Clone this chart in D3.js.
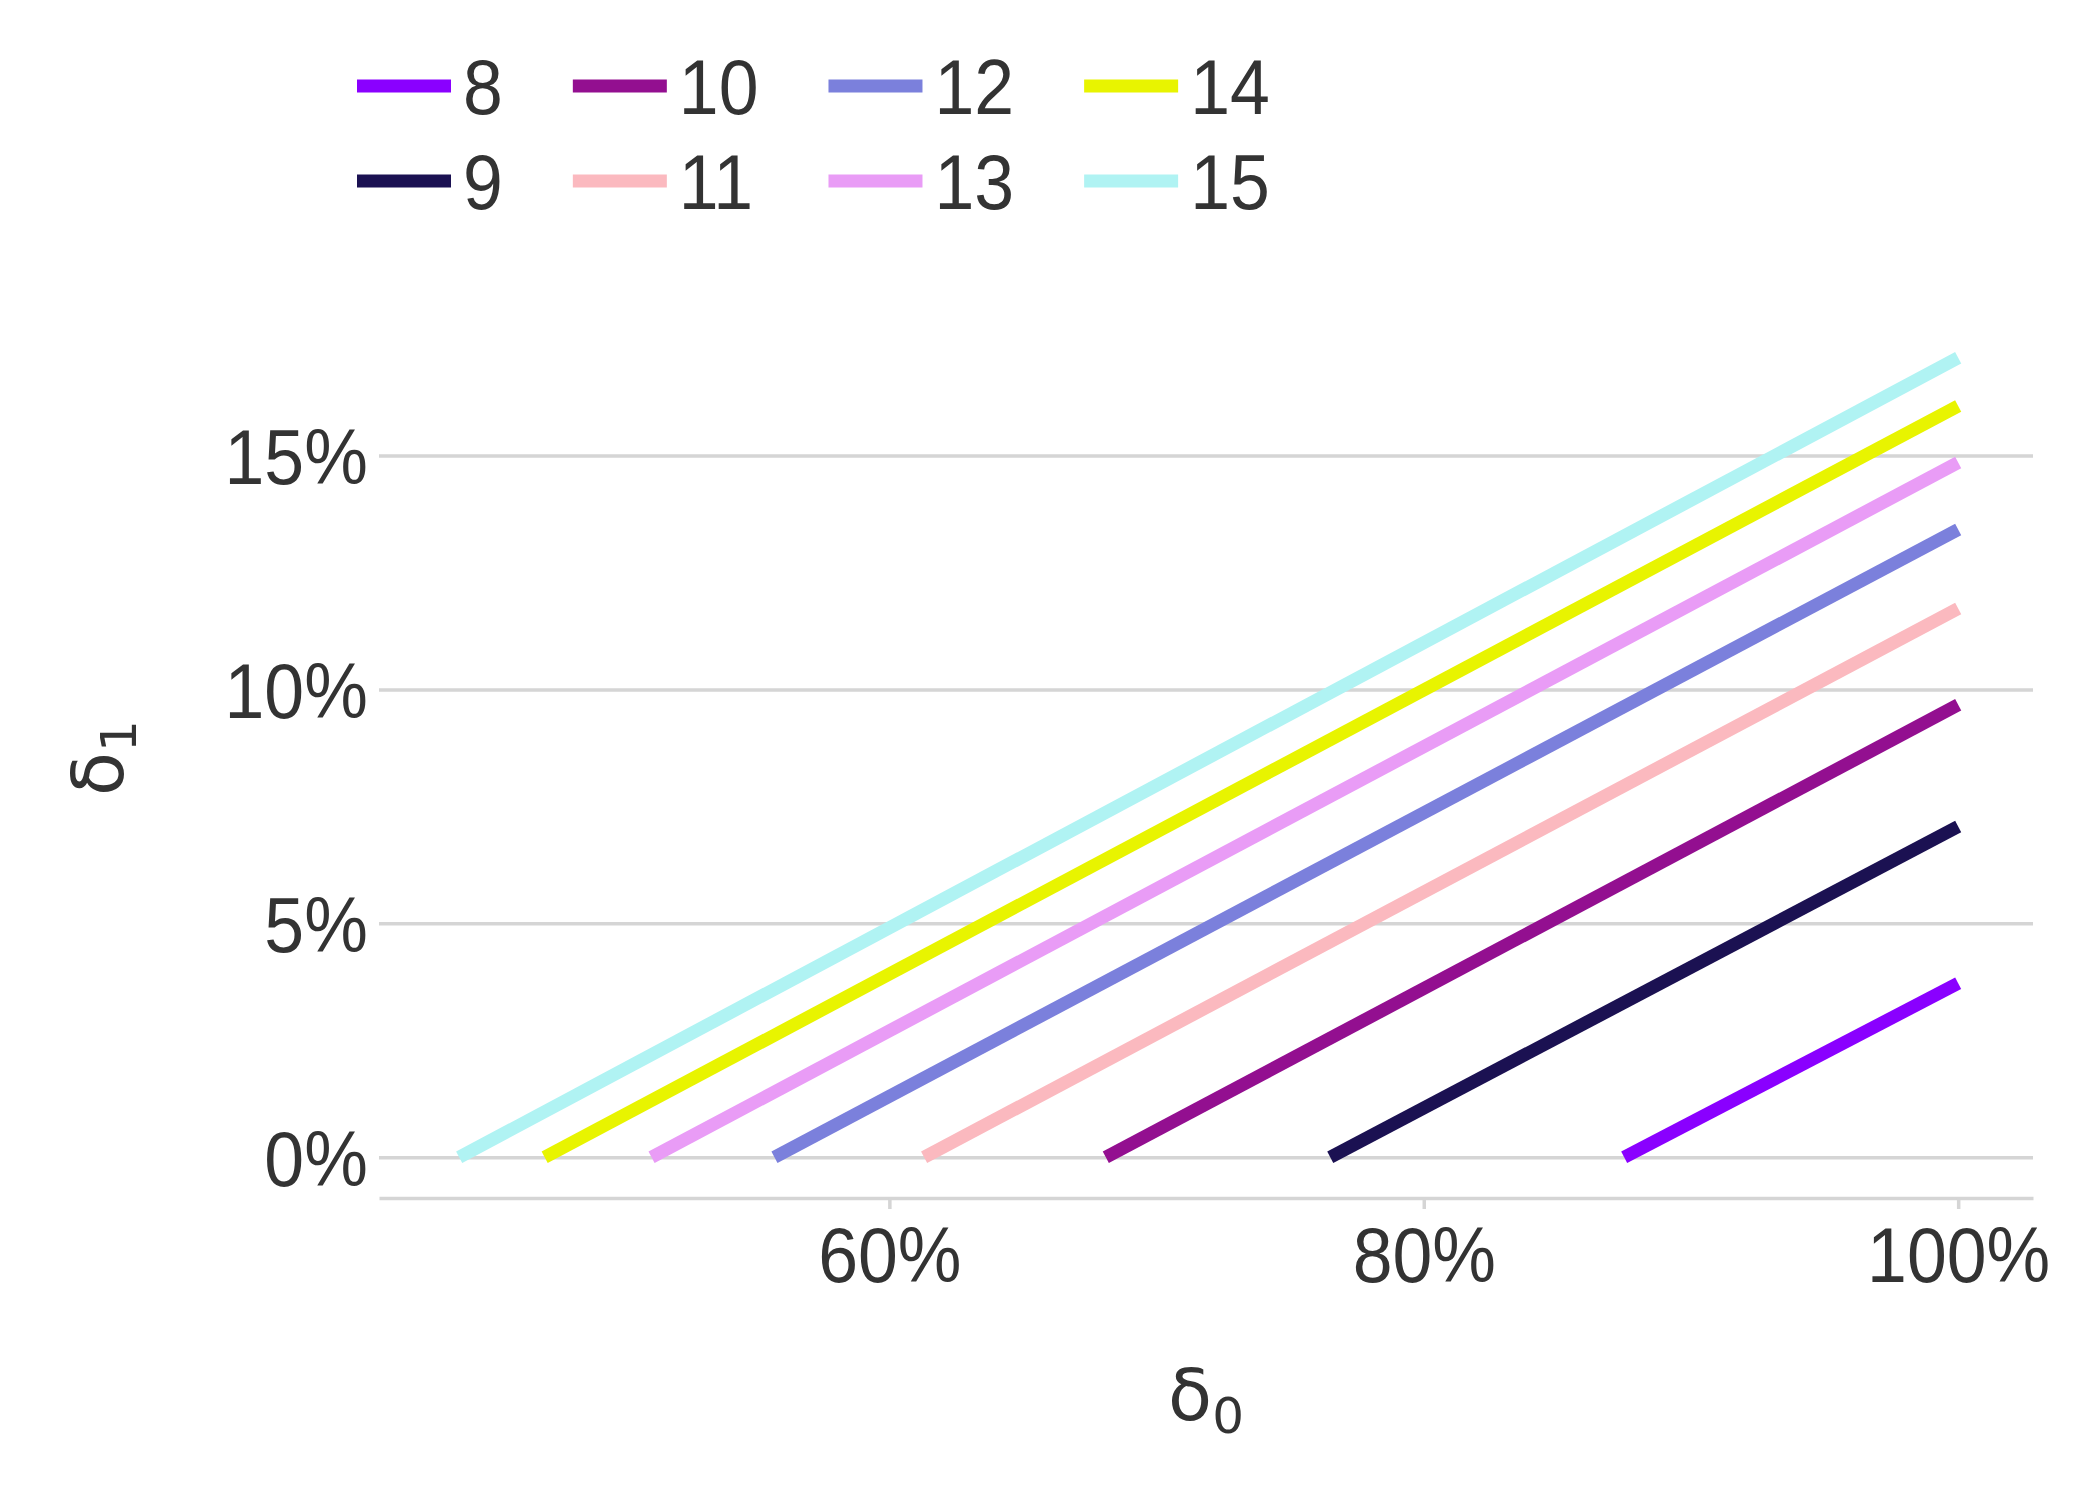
<!DOCTYPE html>
<html>
<head>
<meta charset="utf-8">
<script src="https://cdn.jsdelivr.net/npm/d3@7"></script>
<style>
  body { margin: 0; background: #fff; }
</style>
</head>
<body>
<svg id="chart" width="2100" height="1500"></svg>
<script>
// series: each line leaves 0% at startX and ends at 100%
const series = ["8", "9", "10", "11", "12", "13", "14", "15"];
const colors = ["#8a00ff", "#1b1152", "#930f90", "#fbb9bf", "#7b80dc", "#e99cf6", "#e8f400", "#b0f3f3"];
const startX = [87.5, 76.5, 68.1, 61.3, 55.7, 51.1, 47.1, 43.9];
const endX = [100, 100, 100, 100, 100, 100, 100, 100];
const endY = [3.72, 7.07, 9.67, 11.73, 13.42, 14.85, 16.06, 17.09];
const xTicks = [60, 80, 100];
const yTicks = [0, 5, 10, 15];

const tickFont = "'Liberation Sans', Arial, sans-serif";
const mathFont = "'DejaVu Sans', sans-serif";
const gridColor = "#d5d5d5";
const textColor = "#333333";
const squeeze = 0.93; // the reference glyphs are a bit narrower than Liberation Sans

const svg = d3.select("#chart");

const plotL = 379, plotR = 2033, plotT = 317, plotB = 1198;

const x = d3.scaleLinear().domain([40.9, 102.8]).range([plotL, plotR]);
const y = d3.scaleLinear().domain([-0.87, 17.96]).range([plotB, plotT]);

// y grid + labels
const yAxis = d3.axisLeft(y)
    .tickValues(yTicks)
    .tickSize(-(plotR - plotL))
    .tickPadding(12)
    .tickFormat(d => d + "%");
const gy = svg.append("g")
    .attr("transform", "translate(" + plotL + ",0)")
    .call(yAxis);
gy.select(".domain").remove();
gy.selectAll(".tick line").attr("stroke", gridColor).attr("stroke-width", 3.5);
gy.selectAll(".tick text")
    .attr("fill", textColor)
    .attr("font-family", tickFont)
    .attr("font-size", 77)
    .attr("dy", "0.36em")
    .attr("transform", "scale(" + squeeze + ",1)");

// x axis line + ticks
const xAxis = d3.axisBottom(x)
    .tickValues(xTicks)
    .tickSizeInner(11)
    .tickSizeOuter(0)
    .tickPadding(18)
    .tickFormat(d => d + "%");
const gx = svg.append("g")
    .attr("transform", "translate(0," + plotB + ")")
    .call(xAxis);
gx.select(".domain").attr("stroke", gridColor).attr("stroke-width", 3.5);
gx.selectAll(".tick line").attr("stroke", gridColor).attr("stroke-width", 3.5);
gx.selectAll(".tick text")
    .attr("fill", textColor)
    .attr("font-family", tickFont)
    .attr("font-size", 77)
    .attr("transform", "scale(" + squeeze + ",1)");

// lines
const lineData = series.map((s, i) => ({
    name: s,
    color: colors[i],
    pts: [{ x: startX[i], y: 0 }, { x: endX[i], y: endY[i] }]
}));
const line = d3.line().x(d => x(d.x)).y(d => y(d.y));
svg.append("g")
    .selectAll("path")
    .data(lineData)
    .join("path")
    .attr("d", d => line(d.pts))
    .attr("fill", "none")
    .attr("stroke", d => d.color)
    .attr("stroke-width", 13);

// legend, 2 rows, column-major
const legend = svg.append("g").attr("class", "legend");
const rowY = [86, 181];
const lineLen = 94, gap = 12, colSep = 70;
let colX = 357;
for (let c = 0; c < Math.ceil(series.length / 2); c++) {
    let maxW = 0;
    for (let r = 0; r < 2; r++) {
        const i = c * 2 + r;
        if (i >= series.length) break;
        legend.append("line")
            .attr("x1", colX).attr("x2", colX + lineLen)
            .attr("y1", rowY[r]).attr("y2", rowY[r])
            .attr("stroke", colors[i])
            .attr("stroke-width", 13);
        const t = legend.append("text")
            .attr("transform", "translate(" + (colX + lineLen + gap) + "," + (rowY[r] + 28) + ") scale(" + squeeze + ",1)")
            .attr("font-family", tickFont)
            .attr("font-size", 77)
            .attr("fill", textColor)
            .text(series[i]);
        maxW = Math.max(maxW, t.node().getComputedTextLength() * squeeze);
    }
    colX += lineLen + gap + maxW + colSep;
}

// axis titles
const xt = svg.append("text")
    .attr("x", (plotL + plotR) / 2)
    .attr("y", 1420)
    .attr("text-anchor", "middle")
    .attr("font-family", mathFont)
    .attr("font-size", 72)
    .attr("fill", textColor);
xt.append("tspan").text("δ");
xt.append("tspan").attr("font-size", 50).attr("dy", 13).text("0");

const yt = svg.append("text")
    .attr("transform", "translate(123,758) rotate(-90)")
    .attr("text-anchor", "middle")
    .attr("font-family", mathFont)
    .attr("font-size", 72)
    .attr("fill", textColor);
yt.append("tspan").text("δ");
yt.append("tspan").attr("font-size", 50).attr("dy", 13).text("1");
</script>
</body>
</html>
